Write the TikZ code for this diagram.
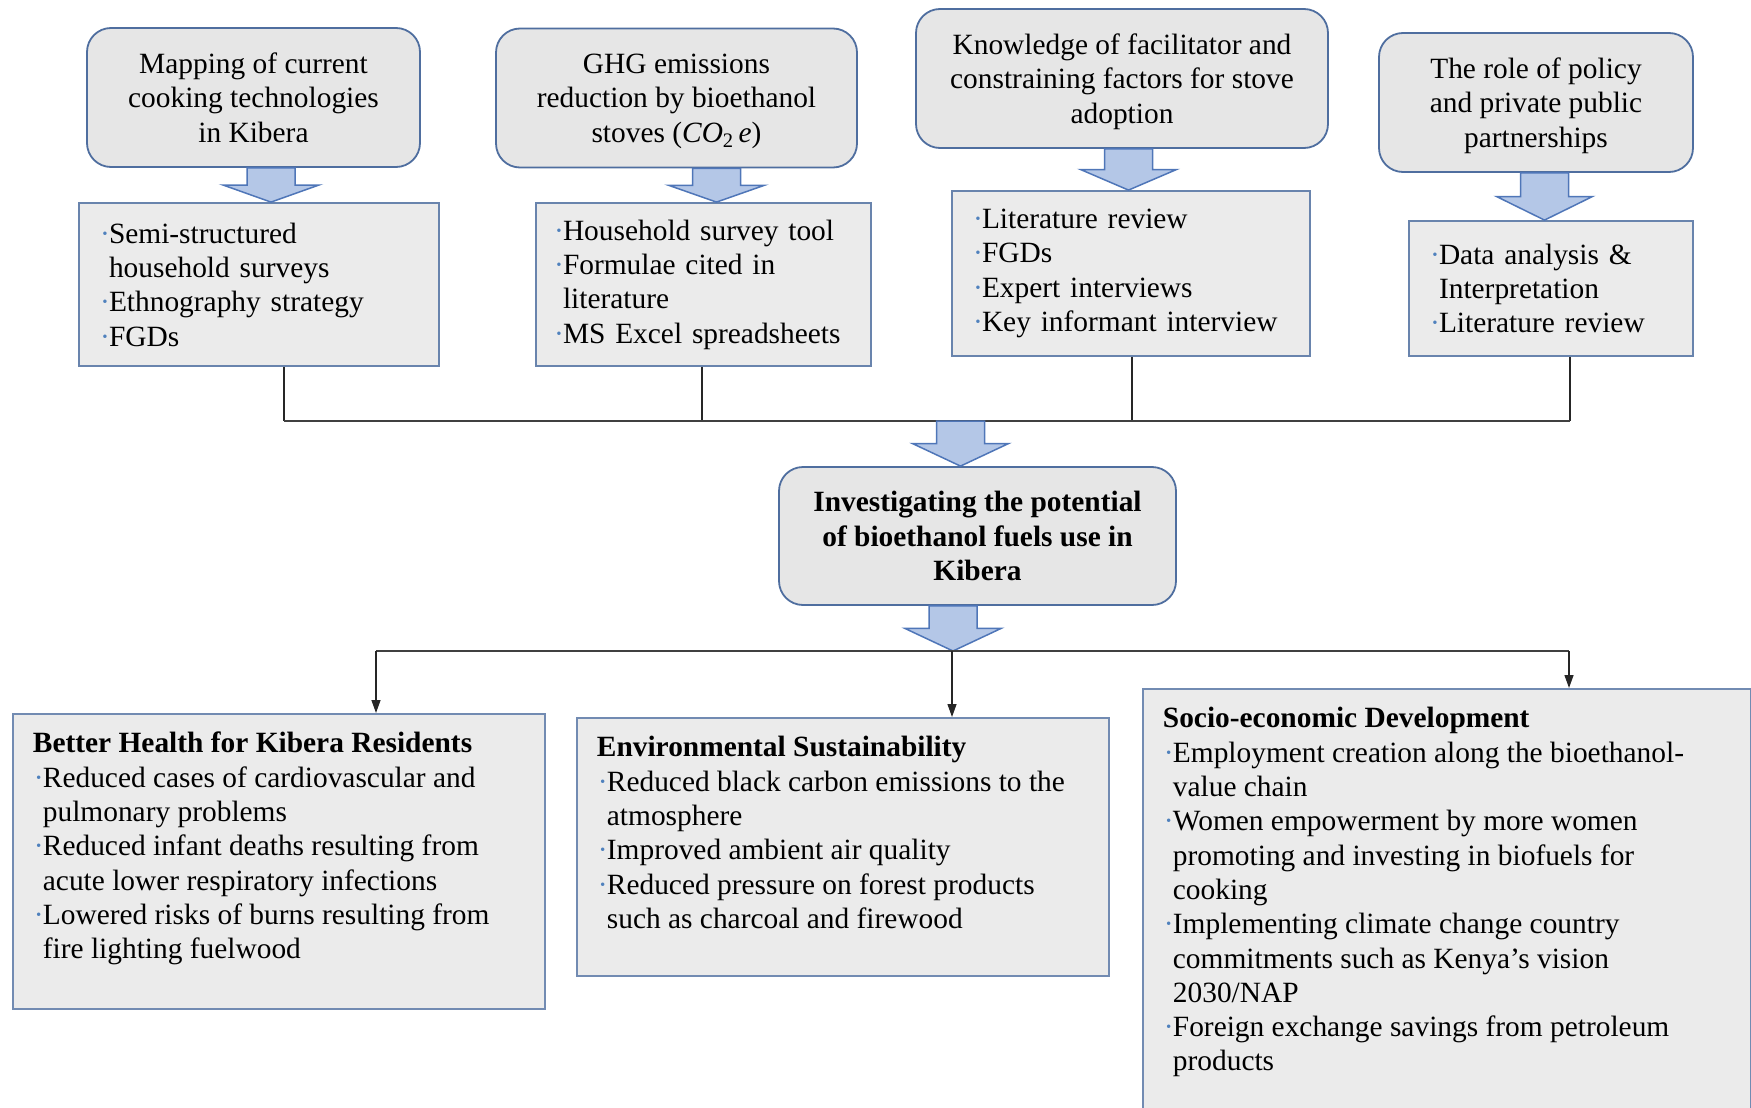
\documentclass[tikz,border=0pt]{standalone}
\usepackage{fontspec}
\setmainfont{Liberation Serif}
\usetikzlibrary{calc,arrows.meta}

\definecolor{boxfill}{HTML}{E6E6E6}
\definecolor{methfill}{HTML}{EBEBEB}
\definecolor{edgeblue}{HTML}{4F6E9F}
\definecolor{arrfill}{HTML}{B4C7E7}
\definecolor{arredge}{HTML}{4F76B8}
\definecolor{dotblue}{HTML}{4F81BD}

\newcommand{\bodyfont}{\fontsize{29.4}{34.3}\selectfont}
\newcommand{\bl}{\makebox[10pt][l]{\hspace{1pt}\color{dotblue}\textperiodcentered}}
\newcommand{\ind}{\hspace*{10pt}}
% fat arrow from one node to the next
\newcommand{\blockarrow}[3]{%
  \path[blockarr] let \p1=([xshift=#3]#1), \p2=(#2), \p3=($(\p1)!0.5!(\p2)$) in
    (\x1-24pt,\y1) -- (\x1-24pt,\y3) -- (\x1-48pt,\y3) -- (\x1,\y2)
    -- (\x1+48pt,\y3) -- (\x1+24pt,\y3) -- (\x1+24pt,\y1) -- cycle;}

\tikzset{
  topic/.style={draw=edgeblue, fill=boxfill, line width=1.8pt, rounded corners=24pt,
    align=center, minimum height=139pt, inner sep=4pt, text depth=0pt},
  goal/.style={font=\bodyfont\bfseries, minimum width=397pt, minimum height=138pt},
  method/.style={draw=edgeblue!85, fill=methfill, line width=1.8pt, align=left,
    inner xsep=20pt},
  outcome/.style={draw=edgeblue!80, fill=methfill, line width=1.8pt, anchor=north west,
    inner xsep=20pt, inner ysep=15pt},
  blockarr/.style={fill=arrfill, draw=arredge, line width=1.5pt, line join=miter},
  link/.style={black!85, line width=1.3pt},
  bar/.style={black!75, line width=2.5pt}
}

\begin{document}
\begin{tikzpicture}[x=1pt, y=-1pt, font=\bodyfont]
\useasboundingbox (0,0) rectangle (1751,1108);

% study objectives
\node[topic, minimum width=333pt] (map) at (253.5,97.5) {Mapping of current\\cooking technologies\\in Kibera};
\node[topic, minimum width=361pt] (ghg) at (676.5,98) {GHG emissions\\reduction by bioethanol\\stoves (\textit{CO}\textsubscript{2}\,\textit{e})};
\node[topic, minimum width=412pt] (know) at (1122,78.5) {Knowledge of facilitator and\\constraining factors for stove\\adoption};
\node[topic, minimum width=314pt] (policy) at (1536,102.5) {The role of policy\\and private public\\partnerships};

% methods
\node[method, text width=320pt, minimum height=163pt] (mapm) at (259,284.5)
  {\bl Semi-structured\\\ind household surveys\\\bl Ethnography strategy\\\bl FGDs};
\node[method, inner xsep=17pt, text width=301pt, minimum height=163pt] (ghgm) at (703.5,284.5)
  {\bl Household survey tool\\\bl Formulae cited in\\\ind literature\\\bl MS Excel spreadsheets};
\node[method, text width=318pt, minimum height=165pt] (knowm) at (1131,273.5)
  {\bl Literature review\\\bl FGDs\\\bl Expert interviews\\\bl Key informant interview};
\node[method, text width=244pt, minimum height=135pt] (policym) at (1551,288.5)
  {\bl Data analysis \&\\\ind Interpretation\\\bl Literature review};

\blockarrow{map.south}{mapm.north}{17.5pt}
\blockarrow{ghg.south}{ghgm.north}{40pt}
\blockarrow{know.south}{knowm.north}{6.5pt}
\blockarrow{policy.south}{policym.north}{8.5pt}

% joining bar
\coordinate (mbar1) at (284,421);
\coordinate (mbar2) at (702,421);
\coordinate (mbar3) at (1132,421);
\coordinate (mbar4) at (1570,421);
\draw[link] (mapm.south -| mbar1) -- (mbar1);
\draw[link] (ghgm.south -| mbar2) -- (mbar2);
\draw[link] (knowm.south -| mbar3) -- (mbar3);
\draw[link] (policym.south -| mbar4) -- (mbar4);
\draw[bar] (mbar1) -- (mbar4);

% main aim
\coordinate (topbar) at (960.5,421);
\node[topic, goal] (aim) at (977.5,536) {Investigating the potential\\of bioethanol fuels use in\\Kibera};
\blockarrow{topbar}{aim.north}{0pt}

\coordinate (botbar) at (953,651);
\blockarrow{aim.south}{botbar}{-24.5pt}

% expected outcomes
\node[outcome] (health) at (12,713) {\parbox[t][265pt][t]{492pt}{\raggedright\strut
  \textbf{Better Health for Kibera Residents}\\
  \bl Reduced cases of cardiovascular and\\
  \ind pulmonary problems\\
  \bl Reduced infant deaths resulting from\\
  \ind acute lower respiratory infections\\
  \bl Lowered risks of burns resulting from\\
  \ind fire lighting fuelwood}};
\node[outcome] (env) at (576,717) {\parbox[t][228pt][t]{492pt}{\raggedright\strut
  \textbf{Environmental Sustainability}\\
  \bl Reduced black carbon emissions to the\\
  \ind atmosphere\\
  \bl Improved ambient air quality\\
  \bl Reduced pressure on forest products\\
  \ind such as charcoal and firewood}};
\node[outcome] (socio) at (1142,688) {\parbox[t][392pt][t]{568pt}{\raggedright\strut
  \textbf{Socio-economic Development}\\
  \bl Employment creation along the bioethanol-\\
  \ind value chain\\
  \bl Women empowerment by more women\\
  \ind promoting and investing in biofuels for\\
  \ind cooking\\
  \bl Implementing climate change country\\
  \ind commitments such as Kenya’s vision\\
  \ind 2030/NAP\\
  \bl Foreign exchange savings from petroleum\\
  \ind products}};

\coordinate (obar1) at (376,651);
\coordinate (obar2) at (952,651);
\coordinate (obar3) at (1569,651);
\draw[bar] (obar1) -- (obar3);
\draw[link, -{Triangle[width=9pt,length=13pt]}] (obar1) -- (obar1 |- health.north);
\draw[link, -{Triangle[width=9pt,length=13pt]}] (obar2) -- (obar2 |- env.north);
\draw[link, -{Triangle[width=9pt,length=13pt]}] (obar3) -- (obar3 |- socio.north);
\end{tikzpicture}
\end{document}
